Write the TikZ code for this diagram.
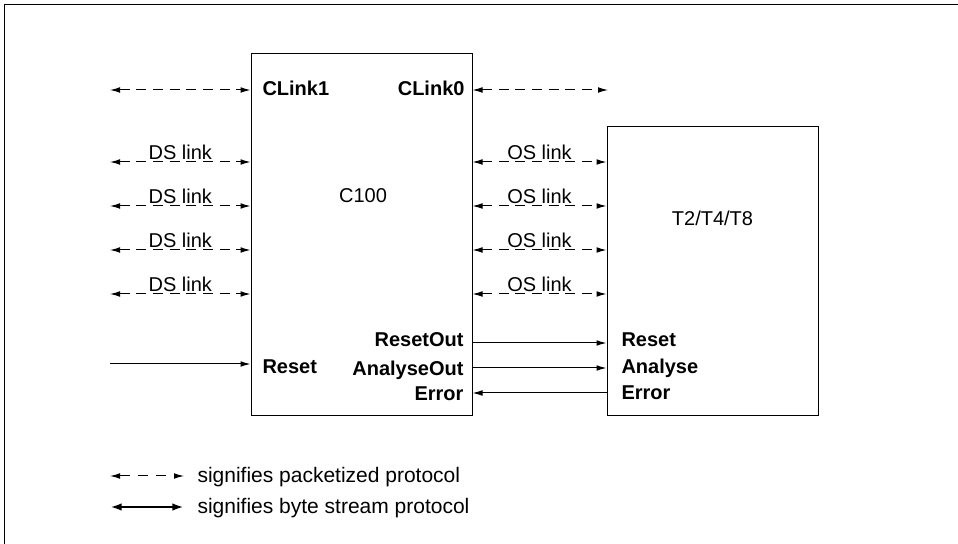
\documentclass[tikz,border=0pt]{standalone}
\usepackage{fontspec}
\setmainfont{Liberation Sans}
\usetikzlibrary{arrows.meta}

\begin{document}
\begin{tikzpicture}[x=0.6pt, y=-0.6pt, line width=0.6pt,
    font=\fontsize{12}{14}\selectfont,
    pkt/.style={dash pattern=on 6pt off 4pt,
      {Latex[length=6pt,width=3.4pt]}-{Latex[length=6pt,width=3.4pt]}},
    sig/.style={-{Latex[length=6pt,width=3.4pt]}},
    chip/.style={draw, inner sep=0pt},
    pin/.style={font=\fontsize{12}{14}\selectfont\bfseries, inner sep=0pt},
    key/.style={font=\fontsize{12.6}{15}\selectfont, inner sep=0pt, anchor=base west}]
      \useasboundingbox (0,0) rectangle (958,544);
      % frame
      \draw (4,544) -- (4,5) -- (958,5);
      % chips
      \node[chip, minimum width=132.6pt, minimum height=217.2pt] (c100) at (361.5,235) {};
      \node[chip, minimum width=126.6pt, minimum height=173.4pt] (tbox) at (712.5,271.5) {};
      \node[anchor=base] (c100name) at (363,203) {C100};
      \node[anchor=base] (tname) at (712.5,226) {T2/T4/T8};
      % pins
      \node[pin, anchor=base west] (clink1) at (262,96) {CLink1};
      \node[pin, anchor=base east] (clink0) at (465,96) {CLink0};
      \node[pin, anchor=base west] (reset) at (262,374) {Reset};
      \node[pin, anchor=base east] (resetout) at (464,347) {ResetOut};
      \node[pin, anchor=base east] (analyseout) at (464,376) {AnalyseOut};
      \node[pin, anchor=base east] (errorout) at (464,401) {Error};
      \node[pin, anchor=base west] (treset) at (621,347) {Reset};
      \node[pin, anchor=base west] (tanalyse) at (621,374) {Analyse};
      \node[pin, anchor=base west] (terror) at (621,400) {Error};
      % control links
      \coordinate (cl1) at (110,90);
      \coordinate (cl0) at (608,90);
      \draw[pkt] (cl1) -- (cl1 -| c100.west);
      \draw[pkt] (c100.east |- cl0) -- (cl0);
      % DS and OS links
      \foreach \y in {162,206,250,294} {
        \coordinate (ds\y) at (110,\y);
        \draw[pkt] (ds\y) -- (ds\y -| c100.west)
          node[midway, anchor=base, yshift=1.5pt] (dsl\y) {DS link};
        \draw[pkt] (c100.east |- ds\y) -- (tbox.west |- ds\y)
          node[midway, anchor=base, yshift=1.5pt] (osl\y) {OS link};
      }
      % reset and status lines
      \coordinate (rin) at (110,364);
      \coordinate (ro) at (0,343);
      \coordinate (ao) at (0,368);
      \coordinate (er) at (0,393);
      \draw[sig] (rin) -- (rin -| c100.west);
      \draw[sig] (c100.east |- ro) -- (tbox.west |- ro);
      \draw[sig] (c100.east |- ao) -- (tbox.west |- ao);
      \draw[sig] (tbox.west |- er) -- (c100.east |- er);
      % legend
      \coordinate (kp1) at (110,476);
      \coordinate (kp2) at (184,476);
      \coordinate (kb1) at (110,507);
      \coordinate (kb2) at (184,507);
      \draw[pkt, dash pattern=on 6pt off 5pt] (kp1) -- (kp2);
      \draw[line width=1.4pt, {Latex[length=7pt,width=4.5pt]}-{Latex[length=7pt,width=4.5pt]}] (kb1) -- (kb2);
      \node[key] (kptext) at (197,483) {signifies packetized protocol};
      \node[key] (kbtext) at (197,514) {signifies byte stream protocol};
\end{tikzpicture}
\end{document}
